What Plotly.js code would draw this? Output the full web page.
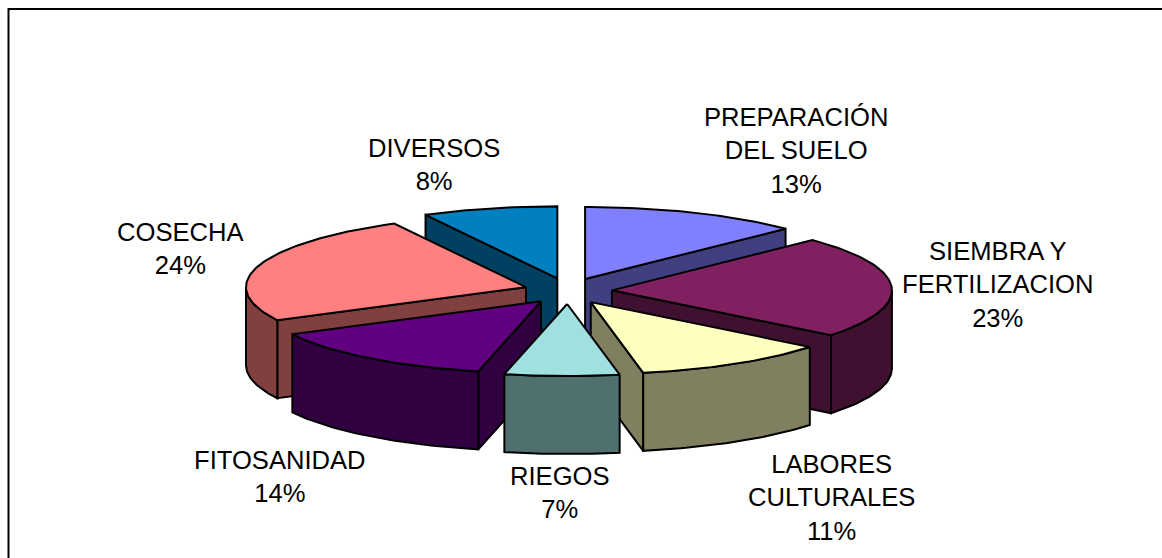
<!DOCTYPE html>
<html>
<head>
<meta charset="utf-8">
<script src="https://cdn.plot.ly/plotly-3.0.1.min.js"></script>
<style>html,body{margin:0;padding:0;background:#fff}#chart{width:1162px;height:558px}</style>
</head>
<body>
<div id="chart"></div>
<script>
// Data (clockwise from 12 o'clock)
var categories = ['PREPARACIÓN<br>DEL SUELO','SIEMBRA Y<br>FERTILIZACION','LABORES<br>CULTURALES','RIEGOS','FITOSANIDAD','COSECHA','DIVERSOS'];
// Percentages as printed on the chart
var percentLabels = [13,23,11,7,14,24,8];
// Slice sweeps as measured on the picture (the tilted drawing differs slightly from the printed numbers)
var values = [12.7,23,11.3,6.6,13.8,24.8,7.8];
var topColors = ['#8080FF','#802060','#FFFFC0','#A0E0E0','#600080','#FF8080','#0080C0'];
var sideColors = ['#404080','#401030','#808060','#507070','#300040','#804040','#004060'];
var labelX = [796,998,831,560,280,180,434];
var labelY = [150,284,497,492,476,248,164];
var drawOrder = [6,0,1,5,4,2,3];

// Pie projection settings, in pixels of the page-sized axes
var CX=568, CY=291, RX=280, RY=72, DEPTH=78, EX=44, EY=13;

var total = values.reduce(function(a,b){return a+b;},0);
var starts=[], ends=[], acc=0;
values.forEach(function(v){starts.push(acc/total*2*Math.PI);acc+=v;ends.push(acc/total*2*Math.PI);});

function poly(pts,fill,name,text){
  return {type:'scatter',mode:'lines',x:pts.map(function(p){return p[0];}),y:pts.map(function(p){return p[1];}),
    fill:'toself',fillcolor:fill,line:{color:'#000',width:2,shape:'linear'},name:name,text:text,
    hoverinfo:'text',hoveron:'fills',showlegend:false};
}
function arc(c,t0,t1,dz){
  var n=Math.max(2,Math.ceil((t1-t0)/0.02)),out=[];
  for(var i=0;i<=n;i++){var t=t0+(t1-t0)*i/n;out.push([c[0]+RX*Math.sin(t),c[1]-RY*Math.cos(t)+dz]);}
  return out;
}
function wall(c,t){
  var r=[c[0]+RX*Math.sin(t),c[1]-RY*Math.cos(t)];
  return [c,r,[r[0],r[1]+DEPTH],[c[0],c[1]+DEPTH],c];
}
var traces=[];
drawOrder.forEach(function(i){
  var t0=starts[i],t1=ends[i],m=(t0+t1)/2;
  var c=[CX+EX*Math.sin(m),CY-EY*Math.cos(m)];
  var txt=categories[i].replace('<br>',' ')+': '+percentLabels[i]+'%';
  if(Math.sin(t0)<0) traces.push(poly(wall(c,t0),sideColors[i],categories[i],txt));
  if(Math.sin(t1)>0) traces.push(poly(wall(c,t1),sideColors[i],categories[i],txt));
  var a0=Math.max(t0,Math.PI/2),a1=Math.min(t1,1.5*Math.PI);
  if(a1>a0){
    var f=arc(c,a0,a1,0).concat(arc(c,a0,a1,DEPTH).reverse());f.push(f[0]);
    traces.push(poly(f,sideColors[i],categories[i],txt));
  }
  var tp=[c].concat(arc(c,t0,t1,0));tp.push(c);
  traces.push(poly(tp,topColors[i],categories[i],txt));
});

var annotations=categories.map(function(cat,i){
  return {xref:'x',yref:'y',x:labelX[i],y:labelY[i],text:cat+'<br>'+percentLabels[i]+'%',showarrow:false,
    align:'center',xanchor:'center',yanchor:'middle',font:{family:'"Liberation Sans",Arial,sans-serif',size:25.6,color:'#000'}};
});

Plotly.newPlot('chart',traces,{
  width:1162,height:558,margin:{l:0,r:0,t:0,b:0},paper_bgcolor:'#fff',plot_bgcolor:'#fff',
  xaxis:{range:[0,1162],visible:false,fixedrange:true},
  yaxis:{range:[558,0],visible:false,fixedrange:true},
  annotations:annotations,
  shapes:[{type:'path',xref:'x',yref:'y',path:'M8.5,558 L8.5,9 L1162,9',line:{color:'#000',width:2}}]
},{displayModeBar:false,responsive:false});
</script>
</body>
</html>
